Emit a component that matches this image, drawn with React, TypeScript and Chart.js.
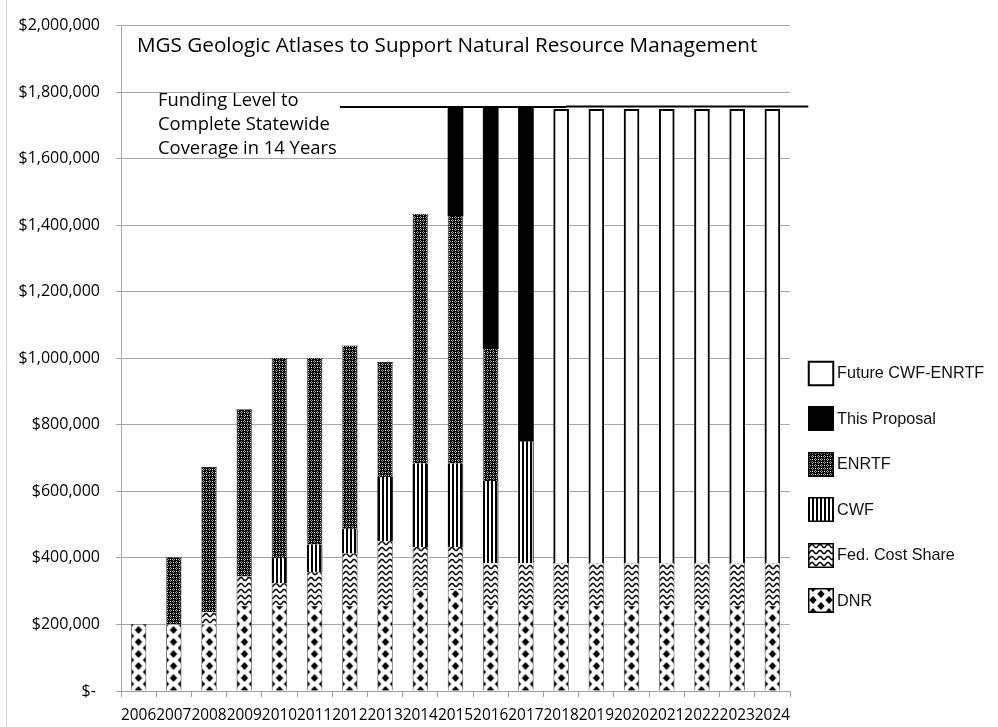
import React, { useEffect, useRef } from "react";
import { Chart, registerables } from "chart.js";

Chart.register(...registerables);

// ---------------- data ----------------
const years = [
  "2006", "2007", "2008", "2009", "2010", "2011", "2012", "2013", "2014", "2015",
  "2016", "2017", "2018", "2019", "2020", "2021", "2022", "2023", "2024",
];
const dnr = [200000, 200000, 200000, 255000, 255000, 255000, 255000, 255000, 303000, 303000,
  255000, 255000, 255000, 255000, 255000, 255000, 255000, 255000, 255000];
const fedCostShare = [0, 0, 37000, 89000, 69000, 102000, 158000, 195000, 130000, 130000,
  129000, 129000, 129000, 129000, 129000, 129000, 129000, 129000, 129000];
const cwf = [0, 0, 0, 0, 76000, 83000, 75000, 193000, 251000, 251000,
  247000, 366000, 0, 0, 0, 0, 0, 0, 0];
const enrtf = [0, 200000, 435000, 501000, 600000, 560000, 549000, 344000, 749000, 744000,
  398000, 0, 0, 0, 0, 0, 0, 0, 0];
const thisProposal = [0, 0, 0, 0, 0, 0, 0, 0, 0, 325000,
  724000, 1003000, 0, 0, 0, 0, 0, 0, 0];
const futureCwfEnrtf = [0, 0, 0, 0, 0, 0, 0, 0, 0, 0,
  0, 0, 1364000, 1364000, 1364000, 1364000, 1364000, 1364000, 1364000];
const fundingLevel = [1755000, 1757000];
const titleText = "MGS Geologic Atlases to Support Natural Resource Management";
const fundingText = ["Funding Level to", "Complete Statewide", "Coverage in 14 Years"];
const seriesLabels = ["DNR", "Fed. Cost Share", "CWF", "ENRTF", "This Proposal", "Future CWF-ENRTF"];

const BAR = 15;

// ---------------- patterns ----------------
function makeTile(w: number, h: number, draw: (g: CanvasRenderingContext2D) => void) {
  const c = document.createElement("canvas");
  c.width = w;
  c.height = h;
  const g = c.getContext("2d")!;
  draw(g);
  return c;
}

function buildTiles() {
  const dnrTile = makeTile(16, 12, (g) => {
    g.fillStyle = "#fff";
    g.fillRect(0, 0, 16, 12);
    g.fillStyle = "#000";
    const d = (cx: number, cy: number) => {
      g.beginPath();
      g.moveTo(cx, cy - 3.9);
      g.lineTo(cx + 3.7, cy);
      g.lineTo(cx, cy + 3.9);
      g.lineTo(cx - 3.7, cy);
      g.closePath();
      g.fill();
    };
    d(8, 6); d(0, 0); d(16, 0); d(0, 12); d(16, 12);
  });
  const waveTile = makeTile(8, 6, (g) => {
    g.fillStyle = "#fff";
    g.fillRect(0, 0, 8, 6);
    g.strokeStyle = "#000";
    g.lineWidth = 1.5;
    for (const off of [-6, 0, 6]) {
      g.beginPath();
      for (let x = -1; x <= 9; x += 0.5) {
        const y = off + 3 + 1.6 * Math.cos((2 * Math.PI * x) / 8);
        if (x === -1) g.moveTo(x, y);
        else g.lineTo(x, y);
      }
      g.stroke();
    }
  });
  const stripeTile = makeTile(4, 4, (g) => {
    g.fillStyle = "#fff";
    g.fillRect(0, 0, 4, 4);
    g.fillStyle = "#000";
    g.fillRect(0, 0, 2, 4);
  });
  const enrtfTile = makeTile(6, 6, (g) => {
    g.fillStyle = "#000";
    g.fillRect(0, 0, 6, 6);
    g.fillStyle = "#a0a0a0";
    const ring = (cx: number, cy: number) => {
      g.fillRect(cx, cy - 1, 1, 1);
      g.fillRect(cx - 1, cy, 1, 1);
      g.fillRect(cx + 1, cy, 1, 1);
      g.fillRect(cx, cy + 1, 1, 1);
    };
    ring(1, 1);
    ring(4, 4);
    g.fillStyle = "#ffffff";
    g.fillRect(4, 1, 1, 1);
    g.fillRect(1, 4, 1, 1);
  });
  return { dnrTile, waveTile, stripeTile, enrtfTile };
}

function anchoredPattern(ctx: CanvasRenderingContext2D, tile: HTMLCanvasElement, dx: number, dy: number) {
  const p = ctx.createPattern(tile, "repeat")!;
  p.setTransform(new DOMMatrix([1, 0, 0, 1, dx, dy]));
  return p;
}

function fitSize(ctx: CanvasRenderingContext2D, text: string, family: string, width: number) {
  ctx.font = `100px ${family}`;
  const w = ctx.measureText(text).width;
  return (100 * width) / w;
}

export default function App() {
  const ref = useRef<HTMLCanvasElement | null>(null);

  useEffect(() => {
    document.body.style.margin = "0";
    const canvas = ref.current!;
    const tiles = buildTiles();

    const scriptBg = (tile: HTMLCanvasElement, centerTile: boolean) => (c: any) => {
      if (c.type !== "data") return "#000";
      const chart = c.chart;
      const xs = chart.scales.x;
      const cx = xs.getPixelForValue(c.dataIndex);
      const left = Math.round(cx - BAR / 2);
      const dx = centerTile ? left + BAR / 2 - tile.width / 2 : left;
      return anchoredPattern(chart.ctx, tile, dx, 0);
    };

    const sideBorder = { left: 1, right: 1, top: 0, bottom: 0 };

    const overlay = {
      id: "overlay",
      beforeDraw(chart: any) {
        const g = chart.ctx as CanvasRenderingContext2D;
        g.save();
        g.fillStyle = "#fff";
        g.fillRect(0, 0, chart.width, chart.height);
        g.strokeStyle = "#d4d4d4";
        g.lineWidth = 1;
        g.beginPath();
        g.moveTo(6.5, 0);
        g.lineTo(6.5, chart.height);
        g.stroke();
        g.restore();
      },
      afterDatasetsDraw(chart: any) {
        const g = chart.ctx as CanvasRenderingContext2D;
        const xs = chart.scales.x;
        const ys = chart.scales.y;
        const catW = (xs.right - xs.left) / years.length;
        g.save();
        // funding level line
        g.strokeStyle = "#000";
        g.lineWidth = 2;
        const y1 = ys.getPixelForValue(fundingLevel[0]);
        const y2 = ys.getPixelForValue(fundingLevel[1]);
        const xa = xs.left + 6.22 * catW;
        const xb = xs.left + 12.64 * catW;
        const xc = xs.left + 19.52 * catW;
        g.beginPath();
        g.moveTo(xa, y1);
        g.lineTo(xb, y1);
        g.stroke();
        g.beginPath();
        g.moveTo(xb, y2);
        g.lineTo(xc, y2);
        g.stroke();

        // title
        const fam = "'Open Sans', sans-serif";
        g.fillStyle = "#000";
        g.textBaseline = "middle";
        g.textAlign = "left";
        const ts = fitSize(g, titleText, fam, 621);
        g.font = `${ts}px ${fam}`;
        g.fillText(titleText, xs.left + 16, ys.top + 21);

        const fs = fitSize(g, fundingText[1], fam, 172);
        g.font = `${fs}px ${fam}`;
        fundingText.forEach((t, i) => {
          g.fillText(t, xs.left + 37, ys.top + 75 + i * 24);
        });
        g.restore();
      },
      afterDraw(chart: any) {
        const g = chart.ctx as CanvasRenderingContext2D;
        const xs = chart.scales.x;
        g.save();
        const bx = xs.right + 18;
        const bw = 26;
        const bh = 25;
        const startY = 373;
        const step = 45.5;
        const order = [5, 4, 3, 2, 1, 0];
        order.forEach((di, i) => {
          const cy = startY + i * step;
          const top = Math.round(cy - bh / 2);
          let fill: any = "#000";
          if (di === 0) fill = anchoredPattern(g, tiles.dnrTile, bx + bw / 2 - 8, top);
          if (di === 1) fill = anchoredPattern(g, tiles.waveTile, bx, top);
          if (di === 2) fill = anchoredPattern(g, tiles.stripeTile, bx, top);
          if (di === 3) fill = anchoredPattern(g, tiles.enrtfTile, bx, top);
          if (di === 5) fill = "#fff";
          g.fillStyle = fill;
          g.fillRect(bx, top, bw, bh);
          g.strokeStyle = "#000";
          g.lineWidth = di === 5 ? 2 : 1.5;
          g.strokeRect(bx + 0.75, top + 0.75, bw - 1.5, bh - 1.5);
          g.fillStyle = "#111";
          g.font = "16.2px 'Liberation Sans', Arial, sans-serif";
          g.textBaseline = "middle";
          g.textAlign = "left";
          g.fillText(seriesLabels[di], bx + 29, cy + 1);
        });
        g.restore();
      },
    };

    const chart = new Chart(canvas, {
      type: "bar",
      data: {
        labels: years,
        datasets: [
          {
            label: seriesLabels[0],
            data: dnr,
            backgroundColor: scriptBg(tiles.dnrTile, true),
            borderColor: "#7f7f7f",
            borderWidth: sideBorder,
          },
          {
            label: seriesLabels[1],
            data: fedCostShare,
            backgroundColor: scriptBg(tiles.waveTile, false),
            borderColor: "#7f7f7f",
            borderWidth: sideBorder,
          },
          {
            label: seriesLabels[2],
            data: cwf,
            backgroundColor: scriptBg(tiles.stripeTile, false),
            borderColor: "#000",
            borderWidth: sideBorder,
          },
          {
            label: seriesLabels[3],
            data: enrtf,
            backgroundColor: scriptBg(tiles.enrtfTile, false),
            borderColor: "#7f7f7f",
            borderWidth: sideBorder,
          },
          {
            label: seriesLabels[4],
            data: thisProposal,
            backgroundColor: "#000",
            borderColor: "#000",
            borderWidth: 0,
          },
          {
            label: seriesLabels[5],
            data: futureCwfEnrtf,
            backgroundColor: "#fff",
            borderColor: "#000",
            borderWidth: { left: 2, right: 2, top: 2, bottom: 0 },
          },
        ],
      },
      options: {
        responsive: false,
        animation: false,
        events: [],
        devicePixelRatio: 1,
        barThickness: BAR,
        layout: { padding: { left: 0, right: 208, top: 22, bottom: 0 } },
        plugins: {
          legend: { display: false },
          tooltip: { enabled: false },
          title: { display: false },
        },
        scales: {
          x: {
            stacked: true,
            afterFit: (s: any) => {
              s.height = 36;
            },
            grid: {
              drawOnChartArea: false,
              drawTicks: true,
              tickLength: 6,
              color: "#a0a0a0",
              offset: true,
            },
            border: { display: true, color: "#a0a0a0" },
            ticks: {
              autoSkip: false,
              maxRotation: 0,
              minRotation: 0,
              padding: 9,
              color: "#000",
              font: { family: "'Open Sans', sans-serif", size: 15.4 },
            },
          },
          y: {
            stacked: true,
            min: 0,
            max: 2000000,
            afterFit: (s: any) => {
              s.width = 121;
            },
            grid: { color: "#a6a6a6", tickLength: 5, drawTicks: true },
            border: { display: true, color: "#a6a6a6" },
            ticks: {
              stepSize: 200000,
              padding: 16,
              color: "#000",
              font: { family: "'Open Sans', sans-serif", size: 16 },
              callback: (v: any) =>
                Number(v) === 0 ? "$- " : "$" + Number(v).toLocaleString("en-US"),
            },
          },
        },
      } as any,
      plugins: [overlay],
    });

    return () => {
      chart.destroy();
    };
  }, []);

  return (
    <div style={{ width: 998, height: 727 }}>
      <canvas ref={ref} width={998} height={727} style={{ display: "block", width: 998, height: 727 }} />
    </div>
  );
}
